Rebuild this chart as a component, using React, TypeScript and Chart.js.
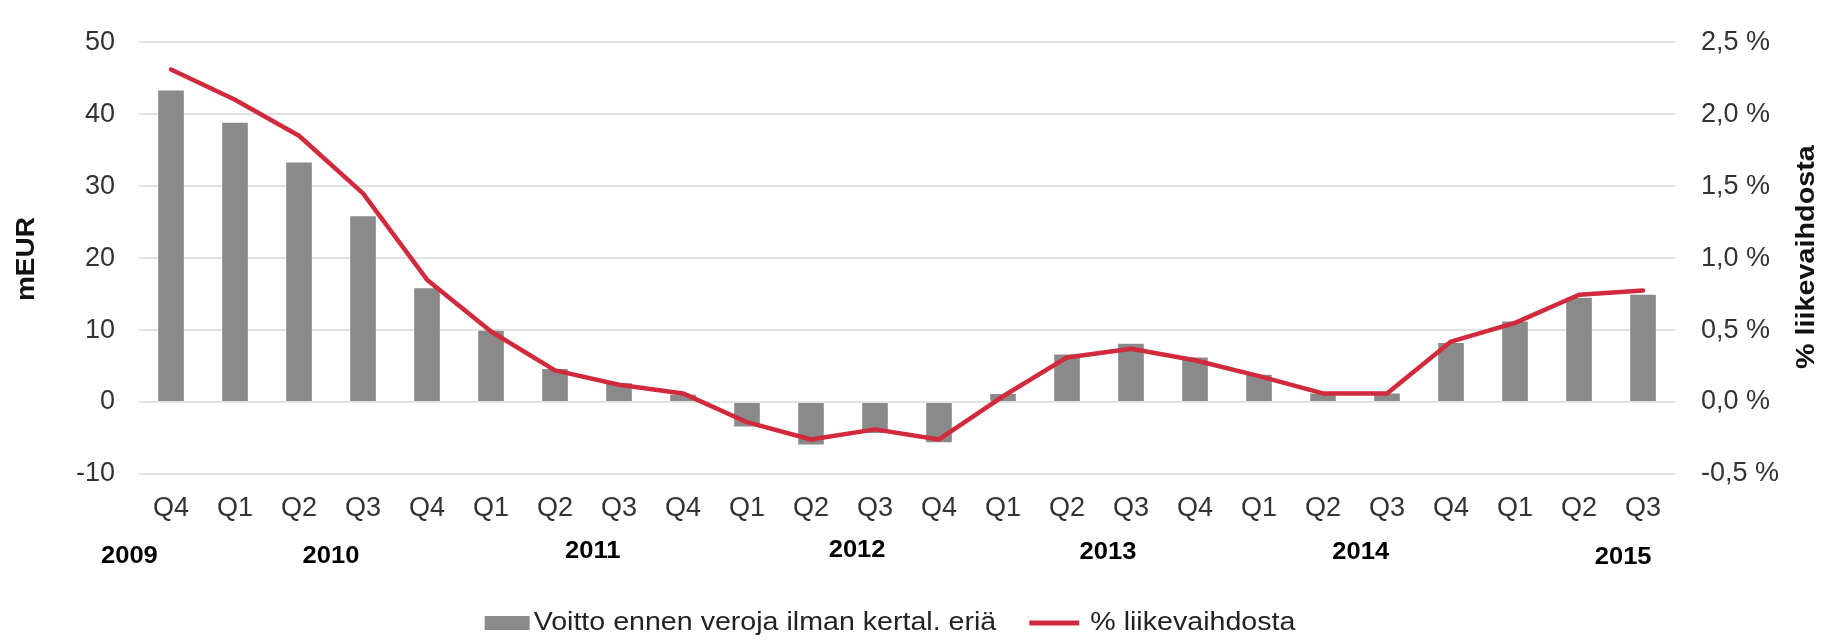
import React, { useEffect, useRef } from "react";
import { Chart, registerables } from "chart.js";

Chart.register(...registerables);

// ---- data ----
const categories = [
  "Q4", "Q1", "Q2", "Q3", "Q4", "Q1", "Q2", "Q3", "Q4", "Q1", "Q2", "Q3",
  "Q4", "Q1", "Q2", "Q3", "Q4", "Q1", "Q2", "Q3", "Q4", "Q1", "Q2", "Q3",
];
const profitBeforeTax = [
  43.3, 38.8, 33.3, 25.8, 15.8, 9.9, 4.6, 2.6, 1.0, -3.4, -5.9, -4.3,
  -5.6, 1.1, 6.6, 8.1, 6.2, 3.8, 1.2, 1.2, 8.2, 11.2, 14.5, 14.9,
];
const pctOfRevenue = [
  2.31, 2.1, 1.85, 1.45, 0.85, 0.49, 0.22, 0.12, 0.06, -0.14, -0.26, -0.19,
  -0.26, 0.04, 0.31, 0.37, 0.29, 0.18, 0.06, 0.06, 0.42, 0.55, 0.745, 0.775,
];
const years = ["2009", "2010", "2011", "2012", "2013", "2014", "2015"];
const barLabel = "Voitto ennen veroja ilman kertal. eriä";
const lineLabel = "% liikevaihdosta";
const leftTitle = "mEUR";
const rightTitle = "% liikevaihdosta";

// ---- layout / style (not data) ----
const FONT = '"Liberation Sans", Arial, Helvetica, sans-serif';
const BAR_COLOR = "#8A8A8B";
const LINE_COLOR = "#D02A3C";
const TICK_COLOR = "#333333";
const yearAnchors = [-0.65, 2.5, 6.59, 10.72, 14.64, 18.59, 22.69];
const yearDrop = [83, 83, 78, 77, 79, 79, 84];

const decorPlugin = {
  id: "decor",
  afterDraw(chart: any) {
    const { ctx, chartArea, scales } = chart;
    const xs = scales.x;
    ctx.save();

    // year labels
    ctx.font = `bold 23px ${FONT}`;
    ctx.fillStyle = "#000000";
    ctx.textAlign = "center";
    ctx.textBaseline = "middle";
    years.forEach((yr, i) => {
      const px = xs.getPixelForValue(yearAnchors[i]);
      const py = chartArea.bottom + yearDrop[i];
      ctx.save();
      ctx.translate(px, py);
      ctx.scale(1.11, 1);
      ctx.fillText(yr, 0, 0);
      ctx.restore();
    });

    // axis titles (both read bottom-to-top)
    const midY = (chartArea.top + chartArea.bottom) / 2;
    ctx.font = `bold 25px ${FONT}`;
    ctx.fillStyle = "#111111";
    ctx.save();
    ctx.translate(27.5, midY + 1);
    ctx.rotate(-Math.PI / 2);
    ctx.scale(1.12, 1);
    ctx.fillText(leftTitle, 0, 0);
    ctx.restore();
    ctx.save();
    ctx.translate(chartArea.right + 132.5, midY - 1);
    ctx.rotate(-Math.PI / 2);
    ctx.scale(1.15, 1);
    ctx.fillText(rightTitle, 0, 0);
    ctx.restore();

    // legend
    const sx = 1.1;
    ctx.font = `26px ${FONT}`;
    const t1w = ctx.measureText(barLabel).width * sx;
    const t2w = ctx.measureText(lineLabel).width * sx;
    const boxW = 45, boxH = 14, gap1 = 4, gapItems = 33, lineW = 50, gap2 = 11;
    const total = boxW + gap1 + t1w + gapItems + lineW + gap2 + t2w;
    const legY = chartArea.bottom + 149;
    let lx = (chartArea.left + chartArea.right) / 2 - 17 - total / 2;
    ctx.fillStyle = BAR_COLOR;
    ctx.fillRect(lx, legY - boxH / 2, boxW, boxH);
    lx += boxW + gap1;
    ctx.fillStyle = "#222222";
    ctx.textAlign = "left";
    ctx.save();
    ctx.translate(lx, legY);
    ctx.scale(sx, 1);
    ctx.fillText(barLabel, 0, 0);
    ctx.restore();
    lx += t1w + gapItems;
    ctx.strokeStyle = LINE_COLOR;
    ctx.lineWidth = 5;
    ctx.lineCap = "butt";
    ctx.beginPath();
    ctx.moveTo(lx, legY);
    ctx.lineTo(lx + lineW, legY);
    ctx.stroke();
    lx += lineW + gap2;
    ctx.save();
    ctx.translate(lx, legY);
    ctx.scale(sx, 1);
    ctx.fillText(lineLabel, 0, 0);
    ctx.restore();

    ctx.restore();
  },
};

export default function App() {
  const canvasRef = useRef<HTMLCanvasElement | null>(null);

  useEffect(() => {
    document.body.style.margin = "0";
    const canvas = canvasRef.current;
    if (!canvas) return;
    const tickFont = { family: FONT, size: 27 };
    const chart = new Chart(canvas, {
      type: "bar",
      data: {
        labels: categories,
        datasets: [
          {
            type: "line",
            label: lineLabel,
            data: pctOfRevenue,
            yAxisID: "y1",
            borderColor: LINE_COLOR,
            backgroundColor: LINE_COLOR,
            borderWidth: 4.5,
            tension: 0,
            pointRadius: 0,
            pointHoverRadius: 0,
            borderJoinStyle: "round",
            borderCapStyle: "round",
            order: 0,
          } as any,
          {
            type: "bar",
            label: barLabel,
            data: profitBeforeTax,
            yAxisID: "y",
            backgroundColor: BAR_COLOR,
            barPercentage: 0.4,
            categoryPercentage: 1,
            order: 1,
          },
        ],
      },
      options: {
        animation: false,
        responsive: false,
        devicePixelRatio: 1,
        layout: { padding: { left: 0, right: 0, top: 24, bottom: 0 } },
        plugins: {
          legend: { display: false },
          tooltip: { enabled: false },
        },
        scales: {
          x: {
            grid: { display: false, drawTicks: false },
            border: { display: false },
            ticks: {
              font: tickFont,
              color: TICK_COLOR,
              padding: 18,
              maxRotation: 0,
              autoSkip: false,
            },
            afterFit: (s: any) => {
              s.height = 167;
            },
          },
          y: {
            position: "left",
            min: -10,
            max: 50,
            ticks: {
              stepSize: 10,
              font: tickFont,
              color: TICK_COLOR,
              padding: 24,
            },
            grid: { color: "#E2E2E2", lineWidth: 2, drawTicks: false },
            border: { display: false },
            afterFit: (s: any) => {
              s.width = 139;
            },
          },
          y1: {
            position: "right",
            min: -0.5,
            max: 2.5,
            ticks: {
              stepSize: 0.5,
              font: tickFont,
              color: TICK_COLOR,
              padding: 26,
              callback: (v: any) =>
                Number(v).toFixed(1).replace(".", ",") + " %",
            },
            grid: { display: false, drawTicks: false },
            border: { display: false },
            afterFit: (s: any) => {
              s.width = 156;
            },
          },
        },
      },
      plugins: [decorPlugin],
    });
    return () => chart.destroy();
  }, []);

  return (
    <div style={{ width: 1831, height: 641, background: "#ffffff" }}>
      <canvas
        ref={canvasRef}
        width={1831}
        height={641}
        style={{ display: "block" }}
      />
    </div>
  );
}
